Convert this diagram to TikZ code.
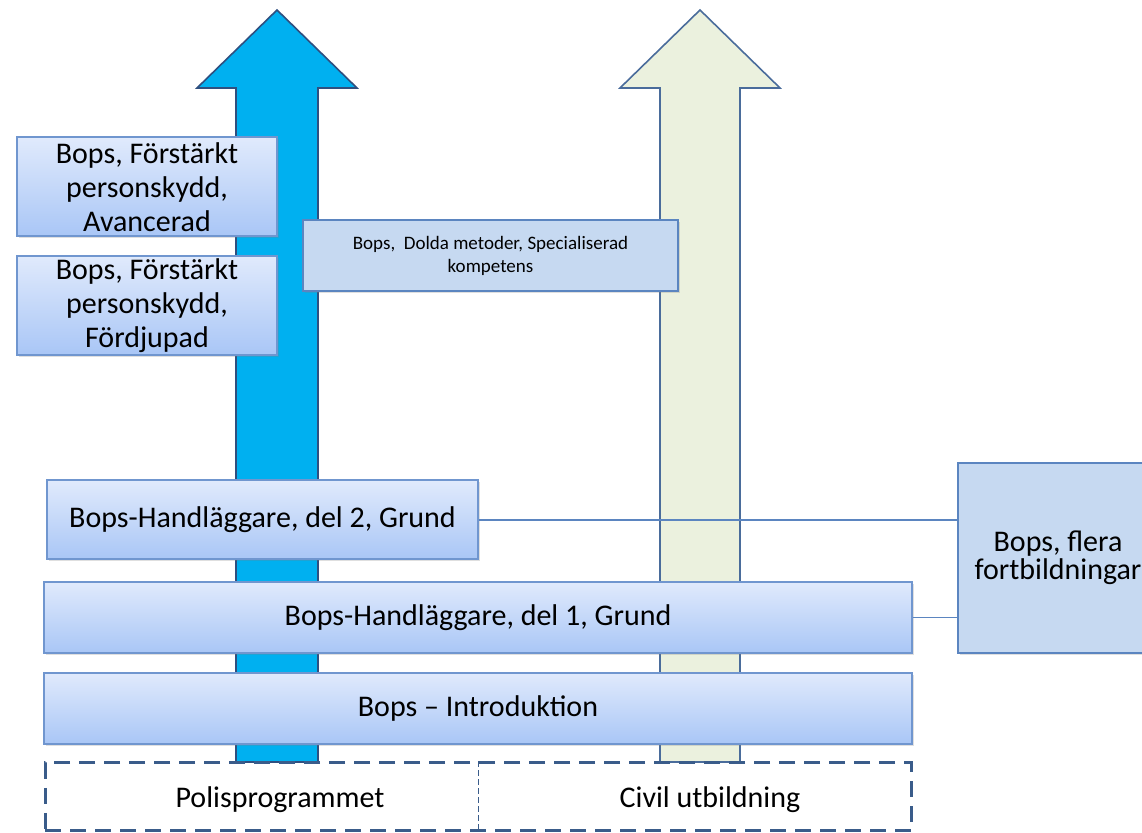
\documentclass[tikz,border=0pt]{standalone}
\usepackage{fontspec}
\setmainfont{Carlito}
\usetikzlibrary{shadows}
\definecolor{pilblue}{HTML}{00B0F0}
\definecolor{pilblueedge}{HTML}{2F4F7F}
\definecolor{pilbeige}{HTML}{EBF1DE}
\definecolor{pilbeigeedge}{HTML}{4A6C9B}
\definecolor{boxtop}{HTML}{E0EAFC}
\definecolor{boxbottom}{HTML}{A9C6F6}
\definecolor{boxedge}{HTML}{7096CF}
\definecolor{flatfill}{HTML}{C6D9F1}
\definecolor{flatedge}{HTML}{5B85C0}
\definecolor{basedge}{HTML}{3A5C8A}

\begin{document}
\begin{tikzpicture}[x=0.5pt,y=-0.5pt,
	course/.style={draw=boxedge, line width=1pt, top color=boxtop, bottom color=boxbottom,
		drop shadow={shadow xshift=1pt, shadow yshift=-1pt, opacity=0.25},
		align=center, inner sep=0pt, font=\fontsize{15}{17}\selectfont},
	flat/.style={draw=flatedge, line width=1pt, fill=flatfill,
		drop shadow={shadow xshift=1pt, shadow yshift=-1pt, opacity=0.25},
		align=center, inner sep=0pt}]
	\useasboundingbox (0,0) rectangle (1142,833);
	\clip (0,0) rectangle (1142,833);

	% the two arrows behind the courses
	\filldraw[fill=pilblue, draw=pilblueedge, line width=0.8pt, line join=miter]
		(236,762)--(236,88)--(197,88)--(277,10)--(357,88)--(318,88)--(318,762)--cycle;
	\filldraw[fill=pilbeige, draw=pilbeigeedge, line width=0.8pt, line join=miter]
		(660,762)--(660,88)--(620,88)--(700,10)--(780,88)--(740,88)--(740,762)--cycle;

	\node[course, minimum width=130pt, minimum height=49.5pt] at (147,187)(avancerad)
		{Bops, Förstärkt\\personskydd,\\Avancerad};
	\node[course, minimum width=130pt, minimum height=49.5pt] at (147,305.5)(fordjupad)
		{Bops, Förstärkt\\personskydd,\\Fördjupad};
	\node[flat, minimum width=187.5pt, minimum height=35.5pt, font=\fontsize{9.5}{11.5}\selectfont]
		at (490.5,255.5)(dolda){Bops,\ \ Dolda metoder, Specialiserad\\kompetens};

	\node[course, minimum width=215.5pt, minimum height=39.5pt] at (262.5,520)(del2)
		{Bops-Handläggare, del 2, Grund};
	\node[course, minimum width=434pt, minimum height=35.5pt] at (478,617.5)(del1)
		{Bops-Handläggare, del 1, Grund};
	\node[course, minimum width=434pt, minimum height=35.5pt] at (478,708.5)(intro)
		{Bops -- Introduktion};

	\node[flat, minimum width=100pt, minimum height=95pt, font=\fontsize{15}{14}\selectfont]
		at (1058,558)(flera){Bops, flera\\fortbildningar};
	\path[draw=flatedge, line width=0.6pt]
		(del2.east) edge (del2.east -| flera.west)
		(del1.east) edge (del1.east -| flera.west);

	% utbildningsbas
	\node[draw=basedge, line width=1.5pt, dash pattern=on 8pt off 4.5pt,
		minimum width=433pt, minimum height=34pt, inner sep=0pt] at (478,797)(bas){};
	\draw[basedge, line width=0.5pt, dash pattern=on 3pt off 1.5pt] (bas.north) -- (bas.south);
	\node[font=\fontsize{15}{17}\selectfont] at (280,800)(polis){Polisprogrammet};
	\node[font=\fontsize{15}{17}\selectfont] at (710,800)(civil){Civil utbildning};
\end{tikzpicture}
\end{document}
